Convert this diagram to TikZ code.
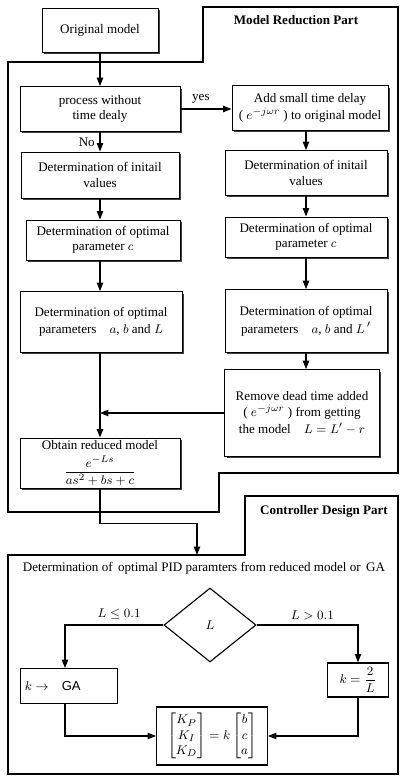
\documentclass[tikz,border=0pt]{standalone}
\usepackage{amsmath}
\usepackage{fontspec}
\setmainfont{Liberation Serif}
\setsansfont{Liberation Sans}
\usetikzlibrary{positioning,shapes.geometric,arrows.meta,shadows}

\begin{document}
\begin{tikzpicture}[x=0.025cm, y=-0.025cm, >={Triangle[length=6pt,width=4.5pt]},
  every node/.style={font=\fontsize{9.3}{11}\selectfont}]
\tikzstyle{box}=[draw, line width=0.6pt, align=center, fill=white, inner sep=2pt,
  drop shadow={shadow xshift=1.4pt, shadow yshift=-1.4pt, fill=black!75, opacity=1}]
\tikzstyle{plainbox}=[draw, line width=0.8pt, align=center, fill=white, inner sep=2pt]
\tikzstyle{region}=[line width=0.9pt]
\tikzstyle{link}=[->, line width=0.8pt]
\useasboundingbox (0,0) rectangle (400,778);
% part outlines
\draw[region] (203,7) -- (398,7) -- (398,473) -- (219,473) -- (219,512) -- (8,512) -- (8,62) -- (203,62) -- cycle;
\draw[region] (245,496) -- (398,496) -- (398,774) -- (8,774) -- (8,555) -- (245,555) -- cycle;
\node[font=\fontsize{9.3}{11}\selectfont\bfseries] (redtitle) at (296,20) {Model Reduction Part};
\node[font=\fontsize{9.3}{11}\selectfont\bfseries] (ctrltitle) at (324,511) {Controller Design Part};
% model reduction
\node[box, minimum width=2.9cm, minimum height=1.1cm] (orig) at (100,30) {Original model};
\node[box, minimum width=4cm, minimum height=1.12cm] (process) at (100,109) {process without\\time dealy};
\node[box, minimum width=3.9cm, minimum height=1.12cm] (add) at (310,108) {Add small time delay\\[1pt]( $e^{-j\omega r}$ ) to original model};
\node[box, minimum width=3.95cm, minimum height=1.15cm] (initl) at (100,175) {Determination of initail\\values};
\node[box, minimum width=4.05cm, minimum height=1.12cm] (initr) at (306,173) {Determination of initail\\values};
\node[box, minimum width=3.85cm, minimum height=1cm] (optcl) at (103,240) {Determination of optimal\\parameter $c$};
\node[box, minimum width=4.05cm, minimum height=1cm] (optcr) at (306,237) {Determination of optimal\\parameter $c$};
\node[box, minimum width=4.05cm, minimum height=1.52cm] (optabl) at (101,322) {Determination of optimal\\[1pt]parameters\quad $a$, $b$ and $L$};
\node[box, minimum width=4.05cm, minimum height=1.57cm] (optabr) at (306,321) {Determination of optimal\\[2pt]parameters\quad $a$, $b$ and $L\,'$};
\node[box, minimum width=3.87cm, minimum height=2.17cm] (remove) at (302,413) {Remove dead time added\\[1pt]( $e^{-j\omega r}$ ) from getting\\[1pt]the model\quad $L=L'-r$};
\node[box, minimum width=4cm, minimum height=1.25cm, inner sep=1pt] (reduced) at (100,463) {Obtain reduced model\\[3pt]$\dfrac{e^{-Ls}}{as^2+bs+c}$};
\draw[link] (orig) -- (orig |- process.north);
\draw[link] (process) -- node[above, pos=0.4] {yes} (process -| add.west);
\draw[link] (process.south) -- node[left, pos=0.55] {No} (process.south |- initl.north);
\draw[link] (initl.south) -- (initl.south |- optcl.north);
\draw[link] (initl.south |- optcl.south) -- (initl.south |- optabl.north);
\draw[link] (initl.south |- optabl.south) -- (initl.south |- reduced.north);
\draw[link] (initr.north |- add.south) -- (initr.north);
\draw[link] (initr.south) -- (optcr.north);
\draw[link] (optcr.south) -- (optabr.north);
\draw[link] (optabr.south) -- (optabr.south |- remove.north);
\draw[link] (remove.west) -- (initl.south |- remove.west);
\coordinate (ctrlin) at (197,555);
\draw[link] (initl.south |- reduced.south) -- ++(0,35) -| (ctrlin);
% controller design
\node (pidtext) at (204,568) {Determination of\, optimal PID paramters from reduced model or\, GA};
\node[draw, diamond, line width=0.8pt, minimum width=2.3cm, minimum height=1.85cm, inner sep=0pt] (choose) at (210,625) {$L$};
\node[plainbox, minimum width=2.42cm, minimum height=0.87cm, anchor=west, text width=2.2cm, align=left] (ga) at (20,686) {$k\rightarrow$\quad\textsf{GA}};
\node[plainbox, minimum width=1.52cm, minimum height=0.85cm] (ktwo) at (358,680) {$k=\dfrac{2}{L}$};
\node[plainbox, minimum width=2.77cm, minimum height=1.45cm, inner sep=1pt] (gains) at (212,736)
  {$\begin{bmatrix}K_P\\K_I\\K_D\end{bmatrix}=k\begin{bmatrix}b\\c\\a\end{bmatrix}$};
\coordinate (gacorner) at (65,625);
\coordinate (ktcorner) at (358,625);
\draw[link] (choose.west) -- node[above, pos=0.45] {$L\le 0.1$} (gacorner) -- (gacorner |- ga.north);
\draw[link] (choose.east) -- node[above, pos=0.55] {$L>0.1$} (ktcorner) -- (ktwo.north);
\draw[link] (gacorner |- ga.south) |- (gains.west);
\draw[link] (ktwo.south) |- (gains.east);
\end{tikzpicture}
\end{document}
